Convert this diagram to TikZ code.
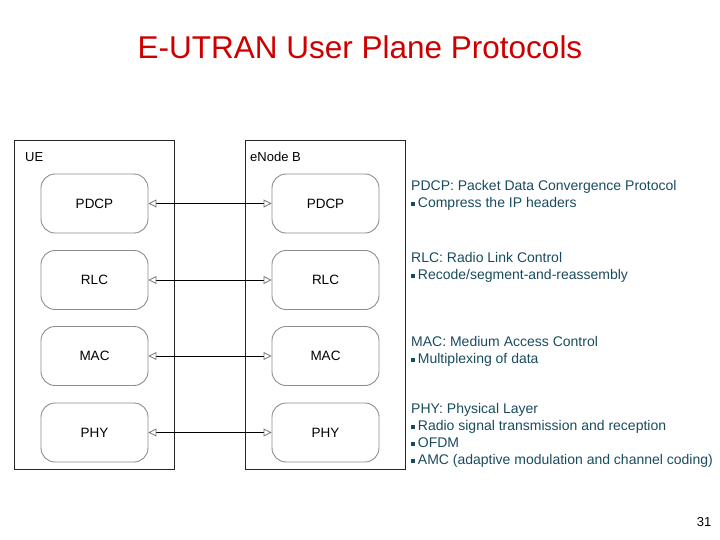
\documentclass[tikz,border=0pt]{standalone}
\usepackage{fontspec}
\setmainfont{Liberation Sans}
\usetikzlibrary{arrows.meta}
\definecolor{titlered}{RGB}{204,0,0}
\definecolor{notecol}{RGB}{25,75,95}
\newcommand{\sqb}{\raisebox{0.2ex}{\rule{0.3em}{0.3em}}\hspace{0.18em}}

\begin{document}
\begin{tikzpicture}[x=1pt, y=-1pt,
		>={Triangle[open, length=8pt, width=8pt, color=black!55]},
		layer/.style={draw=black!45, line width=0.9pt, rounded corners=14pt,
			minimum width=107pt, minimum height=59pt, font=\fontsize{13.5}{16}\selectfont},
		stack/.style={draw=black!85, line width=0.9pt, minimum width=160.5pt, minimum height=328.5pt},
		note/.style={anchor=north west, align=left, inner sep=0pt, text=notecol,
			font=\fontsize{14}{17}\selectfont}]
		\useasboundingbox (0,0) rectangle (720,540);
		\node[font=\fontsize{31.5}{36}\selectfont, text=titlered] (title) at (360,47) {E-UTRAN User Plane Protocols};
		% the two protocol stacks
		\node[stack] (ue) at (94.25,304.75) {};
		\node[stack] (enb) at (325.25,304.75) {};
		\node[anchor=west, inner sep=0pt, font=\fontsize{13}{16}\selectfont] (uelabel) at (25,157) {UE};
		\node[anchor=west, inner sep=0pt, font=\fontsize{13}{16}\selectfont] (enblabel) at (250,157) {eNode B};
		\foreach \n/\y in {PDCP/203.5, RLC/280, MAC/356, PHY/432.5}{
			\node[layer] (ue\n) at (94.5,\y) {\n};
			\node[layer] (enb\n) at (325.5,\y) {\n};
			\draw[<->, line width=0.8pt] (ue\n.east) -- (enb\n.west);
		}
		% notes on the right
		\node[note] (pdcpnote) at (411,180.5) {PDCP: Packet Data Convergence Protocol\\ \sqb Compress the IP headers};
		\node[note] (rlcnote) at (411,252.5) {RLC: Radio Link Control\\ \sqb Recode/segment-and-reassembly};
		\node[note] (macnote) at (411,336.5) {MAC: Medium Access Control\\ \sqb Multiplexing of data};
		\node[note] (phynote) at (411,403.5) {PHY: Physical Layer\\ \sqb Radio signal transmission and reception\\
			\sqb OFDM\\ \sqb AMC (adaptive modulation and channel coding)};
		\node[font=\fontsize{13}{16}\selectfont] (pagenum) at (704,522) {31};
	\end{tikzpicture}
\end{document}
